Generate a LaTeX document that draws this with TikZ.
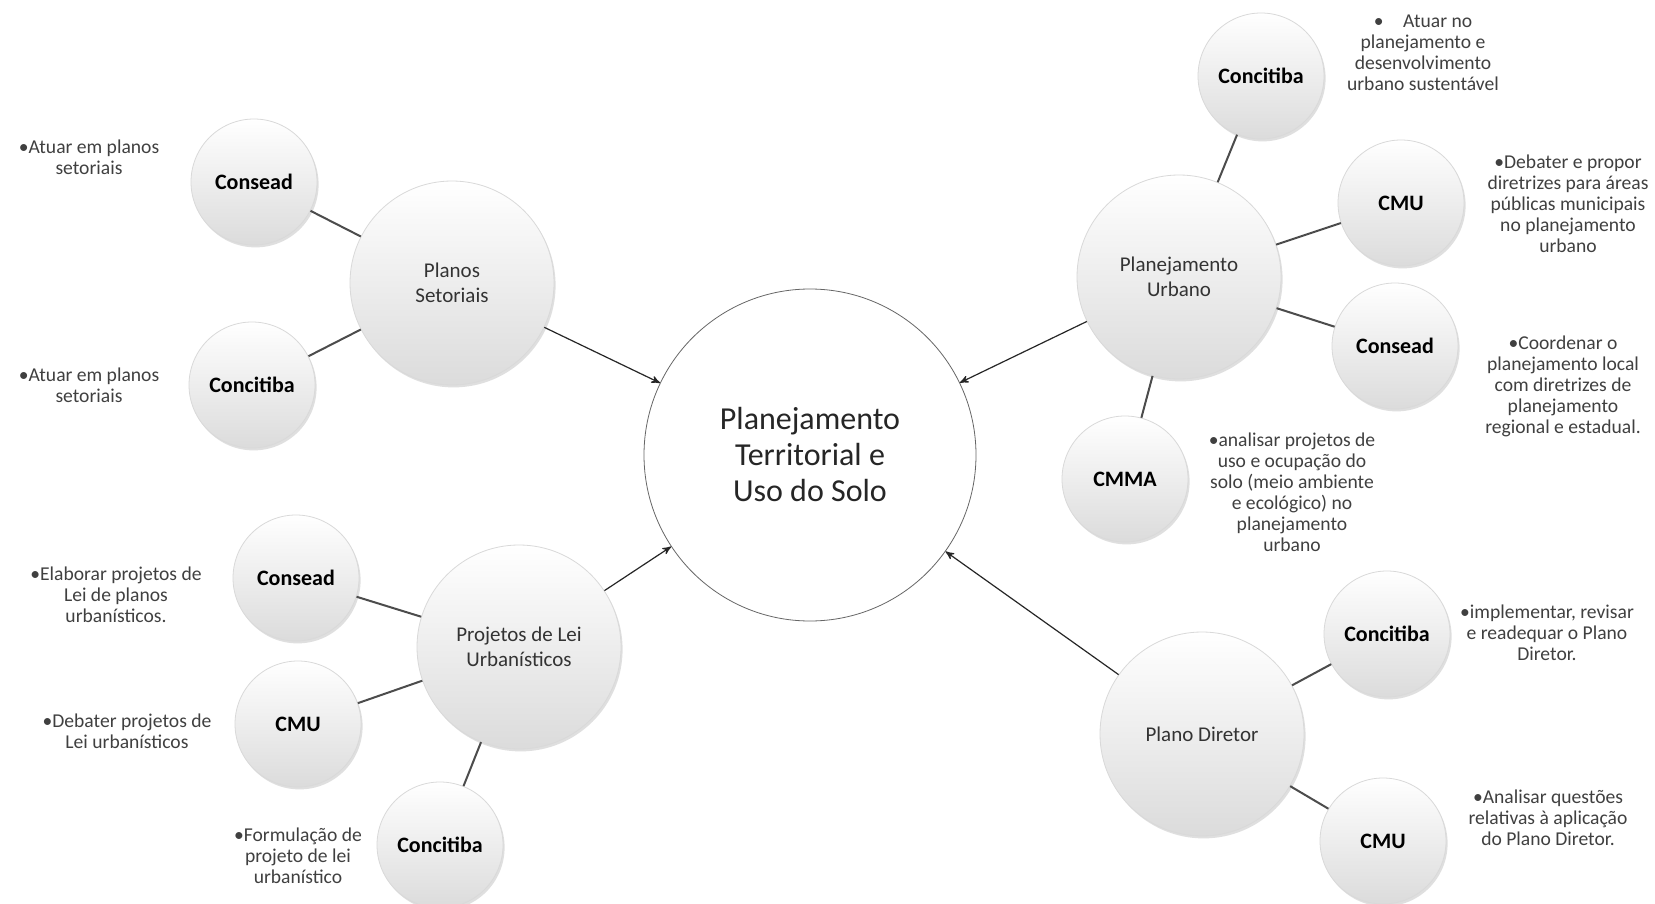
\documentclass[tikz,border=0pt]{standalone}
\usepackage{fontspec}
\setmainfont{Carlito}
\usetikzlibrary{arrows,shadows}
\tikzset{
        >=stealth', % small dark arrow heads
        bubble/.style={circle, inner sep=0pt, draw=gray!30, top color=white, middle color=white!96!gray,
                bottom color=gray!28, drop shadow={shadow xshift=0.8pt, shadow yshift=-1.2pt, opacity=0.25}},
        hub/.style={bubble, minimum size=102pt, align=center, text=black!80,
                font=\fontsize{10.5}{12.5}\selectfont},
        org/.style={bubble, minimum size=63pt, font=\bfseries\fontsize{11}{13}\selectfont},
        note/.style={align=center, text=black!75, font=\fontsize{9.8}{10.5}\selectfont},
        link/.style={line width=1pt, draw=black!70},
        feed/.style={->, line width=0.6pt, draw=black!85},
}
\begin{document}
\begin{tikzpicture}[x=0.5pt, y=-0.5pt]
\path[use as bounding box, fill=white] (0,0) rectangle (1655,904);

\node[circle, draw=black!60, fill=white, minimum size=166pt, align=center, text=black!85,
      font=\fontsize{16}{18}\selectfont] (core) at (810,455) {Planejamento\\Territorial e\\Uso do Solo};

\node[hub] (setor) at (452,283) {Planos\\Setoriais};
\node[hub] (urbano) at (1179,277) {Planejamento\\Urbano};
\node[hub] (leis) at (519,647) {Projetos de Lei\\Urbanísticos};
\node[hub] (diretor) at (1202,734) {Plano Diretor};

\node[org] (setorA) at (254,182) {Consead};
\node[org] (setorB) at (252,385) {Concitiba};
\node[org] (urbanoA) at (1261,76) {Concitiba};
\node[org] (urbanoB) at (1401,203) {CMU};
\node[org] (urbanoC) at (1395,346) {Consead};
\node[org] (urbanoD) at (1125,479) {CMMA};
\node[org] (leisA) at (296,578) {Consead};
\node[org] (leisB) at (298,724) {CMU};
\node[org] (leisC) at (440,845) {Concitiba};
\node[org] (diretorA) at (1387,634) {Concitiba};
\node[org] (diretorB) at (1383,841) {CMU};

\foreach \a/\b in {setor/setorA,setor/setorB,urbano/urbanoA,urbano/urbanoB,urbano/urbanoC,
                   urbano/urbanoD,leis/leisA,leis/leisB,leis/leisC,diretor/diretorA,diretor/diretorB}
  \draw[link] (\a) -- (\b);
\foreach \a in {setor,urbano,leis,diretor}
  \draw[feed] (\a) -- (core);

\node[note] (tA) at (89,157) {•Atuar em planos\\setoriais};
\node[note] (tB) at (89,385) {•Atuar em planos\\setoriais};
\node[note] (tC) at (116,595) {•Elaborar projetos de\\Lei de planos\\urbanísticos.};
\node[note] (tD) at (127,731) {•Debater projetos de\\Lei urbanísticos};
\node[note] (tE) at (298,856) {•Formulação de\\projeto de lei\\urbanístico};
\node[note] (tF) at (1423,53) {•\quad Atuar no\\planejamento e\\desenvolvimento\\urbano sustentável};
\node[note] (tG) at (1568,204) {•Debater e propor\\diretrizes para áreas\\públicas municipais\\no planejamento\\urbano};
\node[note] (tH) at (1563,386) {•Coordenar o\\planejamento local\\com diretrizes de\\planejamento\\regional e estadual.};
\node[note] (tI) at (1292,492) {•analisar projetos de\\uso e ocupação do\\solo (meio ambiente\\e ecológico) no\\planejamento\\urbano};
\node[note] (tJ) at (1547,633) {•implementar, revisar\\e readequar o Plano\\Diretor.};
\node[note] (tK) at (1548,818) {•Analisar questões\\relativas à aplicação\\do Plano Diretor.};
\end{tikzpicture}
\end{document}
